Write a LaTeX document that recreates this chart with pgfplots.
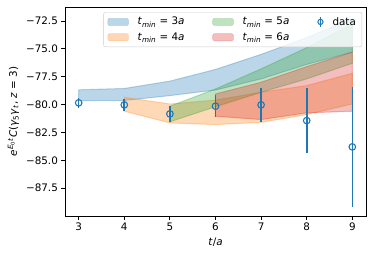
\documentclass[border=0pt]{standalone}
\usepackage{fontspec}
\setmainfont{DejaVu Sans}
\usepackage{pgfplots}
\pgfplotsset{compat=1.18}
\definecolor{tabblue}{RGB}{31,119,180}
\definecolor{taborange}{RGB}{255,127,14}
\definecolor{tabgreen}{RGB}{44,160,44}
\definecolor{tabred}{RGB}{214,39,40}
\newcommand{\tmin}[1]{\textit{t}\textsubscript{\textit{min}} = #1\textit{a}}
\begin{document}
\fontsize{10.4}{12.5}\selectfont
\begin{tikzpicture}
\path[use as bounding box] (-65bp,-41bp) rectangle (309bp,216bp);
\begin{axis}[
  scale only axis, width=301bp, height=209bp,
  xmin=2.7, xmax=9.3, ymin=-90, ymax=-71.25,
  xtick={3,4,5,6,7,8,9},
  ytick={-87.5,-85,-82.5,-80,-77.5,-75,-72.5},
  yticklabels={−87.5,−85.0,−82.5,−80.0,−77.5,−75.0,−72.5},
  xtick pos=left, ytick pos=left,
  tick align=outside, major tick length=3.5bp,
  tick style={black, line width=0.8bp},
  axis line style={line width=0.8bp},
  /pgf/number format/assume math mode=true,
  tick label style={font=\fontsize{10.4}{12.5}\selectfont},
  label style={font=\fontsize{10.4}{12.5}\selectfont},
  xlabel={\textit{t}/\textit{a}},
  ylabel={\textit{e}\textsuperscript{\textit{E}\textsubscript{0}\textit{t}}\textit{C}(\textit{γ}\textsubscript{5}\textit{γ}\textsubscript{\textit{t}}, \textit{z} = 3)},
  legend columns=3,
  legend style={at={(0.987,0.976)}, anchor=north east, draw=black!20, rounded corners=2pt,
    fill=white, fill opacity=0.8, text opacity=1, font=\fontsize{10.4}{12.5}\selectfont,
    inner xsep=4bp, inner ysep=3bp, /tikz/row sep=2bp,
    /tikz/every odd column/.append style={column sep=7bp},
    /tikz/every even column/.append style={column sep=26bp}},
  legend cell align=left,
]
% legend entries
\addlegendimage{legend image code/.code={\draw[fill=tabblue, draw=tabblue, opacity=0.3] (0em,-0.35em) rectangle (2em,0.35em);}}
\addlegendentry{\tmin{3}}
\addlegendimage{legend image code/.code={\draw[fill=tabgreen, draw=tabgreen, opacity=0.3] (0em,-0.35em) rectangle (2em,0.35em);}}
\addlegendentry{\tmin{5}}
\addlegendimage{legend image code/.code={\draw[tabblue, line width=1.5bp] (1em,-0.45em) -- (1em,0.45em); \draw[tabblue, line width=1bp] (1em,0) circle (2.6bp);}}
\addlegendentry{data}
\addlegendimage{legend image code/.code={\draw[fill=taborange, draw=taborange, opacity=0.3] (0em,-0.35em) rectangle (2em,0.35em);}}
\addlegendentry{\tmin{4}}
\addlegendimage{legend image code/.code={\draw[fill=tabred, draw=tabred, opacity=0.3] (0em,-0.35em) rectangle (2em,0.35em);}}
\addlegendentry{\tmin{6}}

% bands
\addplot[fill=tabblue, draw=tabblue, opacity=0.3, line width=1bp, forget plot] coordinates {
 (3,-78.68) (4,-78.56) (5,-77.9) (6,-76.85) (7,-75.5) (8,-74.0) (9,-72.3)
 (9,-75.3) (8,-76.4) (7,-77.7) (6,-78.7) (5,-79.2) (4,-79.64) (3,-79.64)} -- cycle;
\addplot[fill=taborange, draw=taborange, opacity=0.3, line width=1bp, forget plot] coordinates {
 (4,-79.35) (5,-79.95) (6,-79.6) (7,-78.9) (8,-78.3) (9,-77.2)
 (9,-79.95) (8,-80.9) (7,-81.6) (6,-81.8) (5,-81.65) (4,-80.6)} -- cycle;
\addplot[fill=tabgreen, draw=tabgreen, opacity=0.3, line width=1bp, forget plot] coordinates {
 (5,-80.15) (6,-78.6) (7,-76.8) (8,-74.9) (9,-72.8)
 (9,-76.3) (8,-77.7) (7,-78.9) (6,-80.2) (5,-81.55)} -- cycle;
\addplot[fill=tabred, draw=tabred, opacity=0.3, line width=1bp, forget plot] coordinates {
 (6,-79.05) (7,-78.0) (8,-76.6) (9,-75.3)
 (9,-80.6) (8,-80.75) (7,-81.35) (6,-81.05)} -- cycle;

% data
\addplot[tabblue, only marks, mark=o, mark size=3.3bp, mark options={line width=1.1bp}, forget plot,
  error bars/.cd, y dir=both, y explicit, error mark=none,
  error bar style={line width=1.6bp, tabblue}] coordinates {
 (3,-79.85) +- (0,0.45)
 (4,-80.03) +- (0,0.55)
 (5,-80.84) +- (0,0.75)
 (6,-80.15) +- (0,1.0)
 (7,-80.03) +- (0,1.55)
 (8,-81.44) +- (0,2.9)
 (9,-83.8) +- (0,5.35)
};
\end{axis}
\end{tikzpicture}
\end{document}
